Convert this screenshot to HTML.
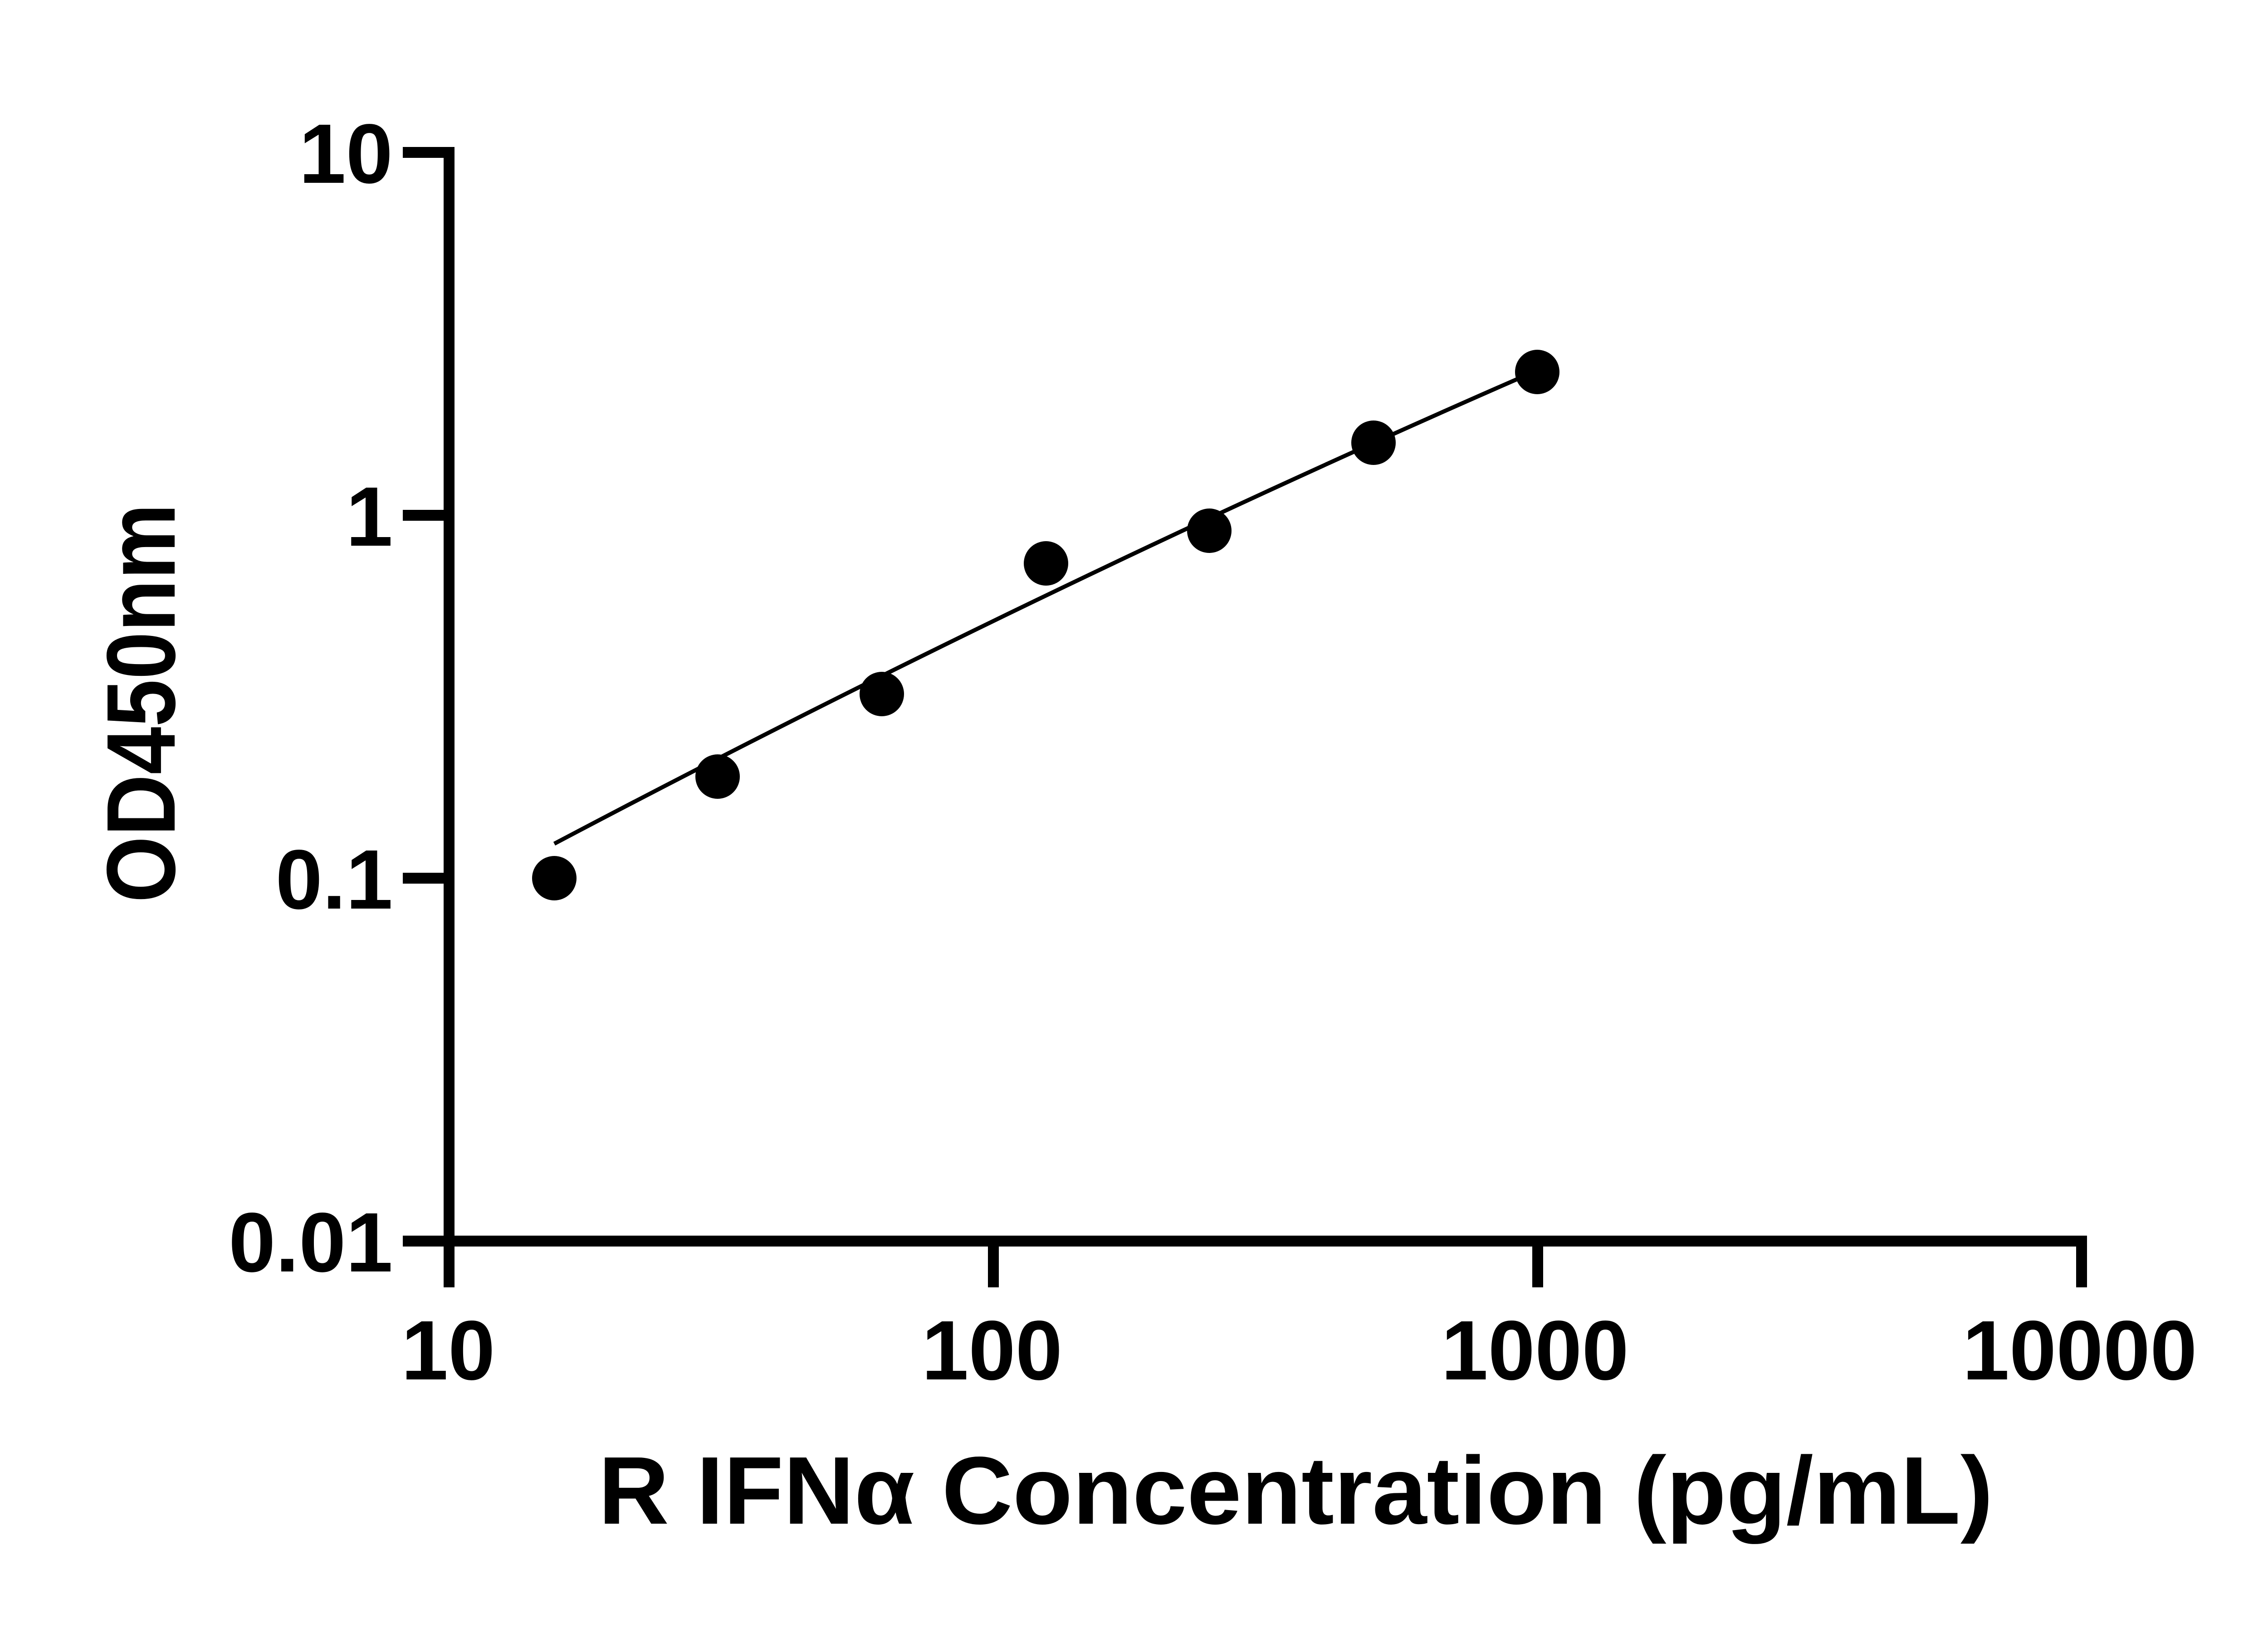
<!DOCTYPE html>
<html>
<head>
<meta charset="utf-8">
<style>
  html, body { margin: 0; padding: 0; background: #ffffff; }
  svg { display: block; }
  text { font-family: "Liberation Sans", Arial, sans-serif; font-weight: bold; fill: #000; }
</style>
</head>
<body>
<svg width="5142" height="3600" viewBox="0 0 5142 3600" xmlns="http://www.w3.org/2000/svg">
  <rect x="0" y="0" width="5142" height="3600" fill="#ffffff"/>

  <!-- Y axis -->
  <rect x="978" y="324" width="24" height="2514" fill="#000"/>
  <!-- X axis (includes 0.01 tick) -->
  <rect x="888" y="2724" width="3713" height="24" fill="#000"/>

  <!-- Y ticks -->
  <rect x="888" y="324" width="100" height="24" fill="#000"/>
  <rect x="888" y="1124" width="100" height="24" fill="#000"/>
  <rect x="888" y="1924" width="100" height="24" fill="#000"/>

  <!-- X ticks -->
  <rect x="2178" y="2736" width="24" height="102" fill="#000"/>
  <rect x="3378" y="2736" width="24" height="102" fill="#000"/>
  <rect x="4577" y="2736" width="24" height="102" fill="#000"/>

  <!-- Y tick labels -->
  <text x="866" y="403" font-size="186" text-anchor="end">10</text>
  <text x="866" y="1203" font-size="186" text-anchor="end">1</text>
  <text x="866" y="2003" font-size="186" text-anchor="end">0.1</text>
  <text x="866" y="2803" font-size="186" text-anchor="end">0.01</text>

  <!-- X tick labels -->
  <text x="988" y="3041" font-size="186" text-anchor="middle">10</text>
  <text x="2187" y="3041" font-size="186" text-anchor="middle">100</text>
  <text x="3384" y="3041" font-size="186" text-anchor="middle">1000</text>
  <text x="4585" y="3041" font-size="186" text-anchor="middle">10000</text>

  <!-- Fit curve -->
  <path d="M1222,1860 Q2305.5,1288 3389,816.5" fill="none" stroke="#000" stroke-width="9"/>

  <!-- Data points -->
  <circle cx="1222" cy="1936" r="49" fill="#000"/>
  <circle cx="1582" cy="1712" r="49" fill="#000"/>
  <circle cx="1944" cy="1530" r="49" fill="#000"/>
  <circle cx="2306" cy="1242" r="49" fill="#000"/>
  <circle cx="2666" cy="1170" r="49" fill="#000"/>
  <circle cx="3028" cy="976" r="49" fill="#000"/>
  <circle cx="3389" cy="820" r="49" fill="#000"/>

  <!-- Y axis title -->
  <text transform="translate(385,1550) rotate(-90)" font-size="215" text-anchor="middle" textLength="880" lengthAdjust="spacingAndGlyphs">OD450nm</text>

  <!-- X axis title -->
  <text x="1319" y="3359" font-size="212" textLength="3075" lengthAdjust="spacingAndGlyphs">R IFNα Concentration (pg/mL)</text>
</svg>
</body>
</html>
